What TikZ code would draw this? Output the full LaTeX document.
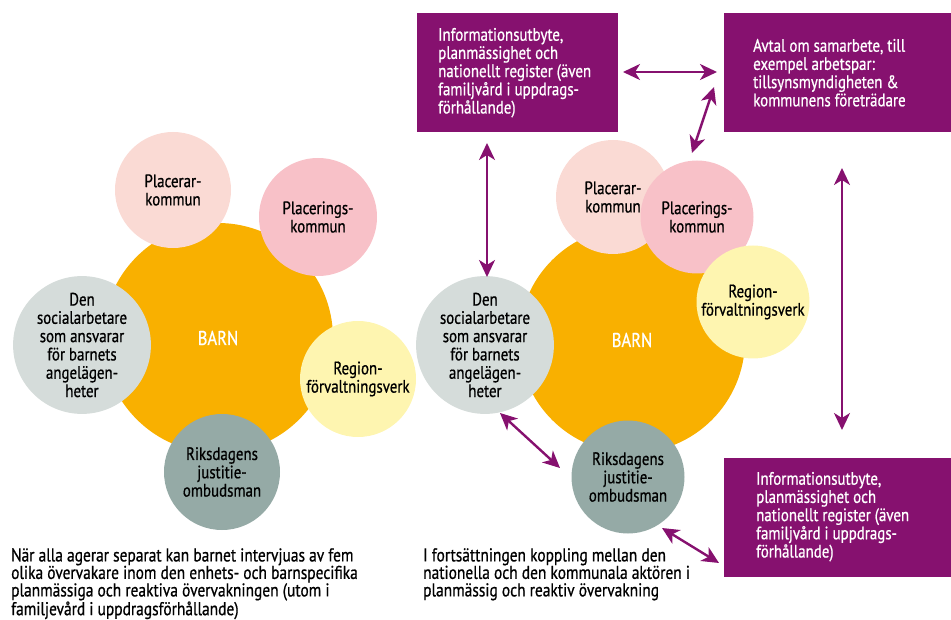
\documentclass[tikz,border=0pt]{standalone}
\usepackage{fontspec}
\setmainfont{PT Sans}[FakeStretch=0.83,FakeBold=0.7]
\usetikzlibrary{arrows.meta}
\definecolor{purp}{HTML}{86116F}
\definecolor{barn}{HTML}{F9B000}
\definecolor{plrar}{HTML}{FADAD4}
\definecolor{plrings}{HTML}{F8C1C8}
\definecolor{socgrey}{HTML}{D5DCDA}
\definecolor{regyel}{HTML}{FEF5B0}
\definecolor{jogrey}{HTML}{95AAA6}
\tikzset{
  bubble/.style={circle, inner sep=0pt, align=center, font=\fontsize{18}{18.3}\selectfont, text=black},
  bigbubble/.style={circle, fill=barn, inner sep=0pt, text=white, font=\fontsize{20}{20}\selectfont},
  pbox/.style={fill=purp, inner sep=0pt, anchor=north west},
  ptext/.style={text=white, align=left, anchor=west, inner sep=0pt, font=\fontsize{18}{18.2}\selectfont},
  caption/.style={text=black, align=left, anchor=north west, inner sep=0pt, font=\fontsize{18.6}{17.5}\selectfont},
  link/.style={draw=purp, line width=2.4pt, {Stealth[length=17pt,width=16pt,inset=5pt]}-{Stealth[length=17pt,width=16pt,inset=5pt]}}
}
\begin{document}
\begin{tikzpicture}[x=1pt,y=-1pt]
\useasboundingbox (0,0) rectangle (951,620);
% ---------- left diagram ----------
\node[bigbubble, minimum size=230pt] (barnL) at (218,338) {BARN};
\node[bubble, fill=plrar, minimum size=116pt] (plrarL) at (173,190) {Placerar-\\kommun};
\node[bubble, fill=plrings, minimum size=118pt] (plringsL) at (318,217) {Placerings-\\kommun};
\node[bubble, fill=socgrey, minimum size=118pt] (socL) at (82,345) {Den\\socialarbetare\\som ansvarar\\för barnets\\angelägen-\\heter};
\node[bubble, fill=regyel, minimum size=116pt] (regL) at (358,379) {Region-\\förvaltningsverk};
\node[bubble, fill=jogrey, minimum size=116pt] (joL) at (222,472) {Riksdagens\\justitie-\\ombudsman};
\node[caption] (capL) at (11,548) {När alla agerar separat kan barnet intervjuas av fem\\olika övervakare inom den enhets- och barnspecifika\\planmässiga och reaktiva övervakningen (utom i\\familjevård i uppdragsförhållande)};
% ---------- right diagram ----------
\node[bigbubble, minimum size=226pt] (barnR) at (632,340) {BARN};
\node[bubble, fill=plrar, minimum size=114pt] (plrarR) at (613,197) {Placerar-\\kommun};
\node[bubble, fill=plrings, minimum size=113pt] (plringsR) at (697,217) {Placerings-\\kommun};
\node[bubble, fill=regyel, minimum size=113pt] (regR) at (753,302) {Region-\\förvaltningsverk};
\node[bubble, fill=socgrey, minimum size=114pt] (socR) at (485,345) {Den\\socialarbetare\\som ansvarar\\för barnets\\angelägen-\\heter};
\node[bubble, fill=jogrey, minimum size=113pt] (joR) at (628,477) {Riksdagens\\justitie-\\ombudsman};
% boxes
\node[pbox, minimum width=201pt, minimum height=119pt] (box1) at (417,13) {};
\node[ptext] (t1) at ([xshift=21pt]box1.west) {Informationsutbyte,\\planmässighet och\\nationellt register (även\\familjvård i uppdrags-\\förhållande)};
\node[pbox, minimum width=227pt, minimum height=119pt] (box2) at (724,13) {};
\node[ptext] (t2) at ([xshift=29pt]box2.west) {Avtal om samarbete, till\\exempel arbetspar:\\tillsynsmyndigheten \&\\kommunens företrädare};
\node[pbox, minimum width=227pt, minimum height=119pt] (box3) at (724,458) {};
\node[ptext] (t3) at ([xshift=32pt,yshift=1pt]box3.west) {Informationsutbyte,\\planmässighet och\\nationellt register (även\\familjvård i uppdrags-\\förhållande)};
\node[caption] (capR) at (423,548) {I fortsättningen koppling mellan den\\nationella och den kommunala aktören i\\planmässig och reaktiv övervakning};
% arrows
\coordinate (a1s) at (623,72); \coordinate (a1e) at (717,72);
\coordinate (a2s) at (714,87); \coordinate (a2e) at (692,153);
\coordinate (a3s) at (487,143); \coordinate (a3e) at (487,277);
\coordinate (a4s) at (842,168); \coordinate (a4e) at (842,430);
\coordinate (a5s) at (500,413); \coordinate (a5e) at (560,468);
\coordinate (a6s) at (662,528); \coordinate (a6e) at (719,563);
\draw[link] (a1s) -- (a1e);
\draw[link] (a2s) -- (a2e);
\draw[link] (a3s) -- (a3e);
\draw[link] (a4s) -- (a4e);
\draw[link] (a5s) -- (a5e);
\draw[link] (a6s) -- (a6e);
\end{tikzpicture}
\end{document}
